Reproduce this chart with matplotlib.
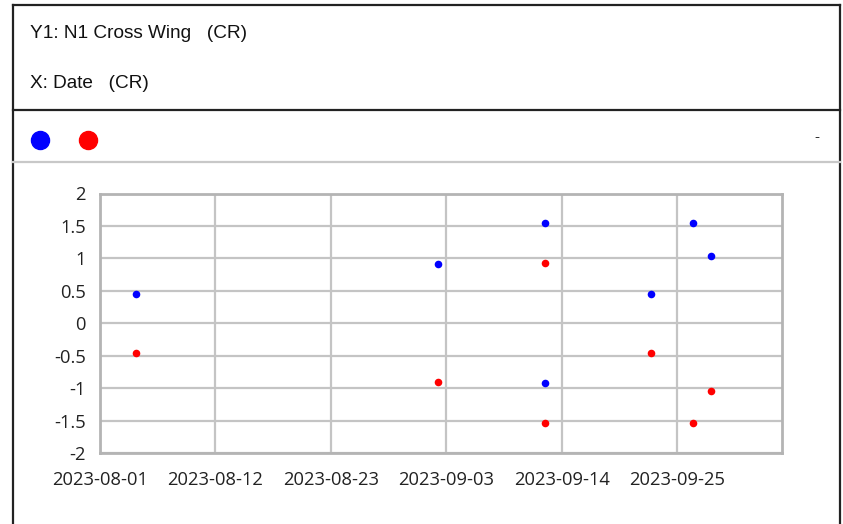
import matplotlib
matplotlib.use("Agg")
import matplotlib.pyplot as plt
import matplotlib.dates as mdates
from matplotlib.lines import Line2D
import pandas as pd

# data
blue_dates = ["2023-08-04 10:00", "2023-09-02 05:00", "2023-09-12 10:00", "2023-09-12 10:00",
              "2023-09-22 12:00", "2023-09-26 12:00", "2023-09-28 05:00"]
blue_values = [0.45, 0.91, 1.54, -0.92, 0.45, 1.54, 1.04]
red_dates = ["2023-08-04 10:00", "2023-09-02 05:00", "2023-09-12 10:00", "2023-09-12 10:00",
             "2023-09-22 12:00", "2023-09-26 12:00", "2023-09-28 05:00"]
red_values = [-0.46, -0.91, 0.93, -1.53, -0.46, -1.53, -1.04]
x_ticks = ["2023-08-01", "2023-08-12", "2023-08-23", "2023-09-03", "2023-09-14", "2023-09-25"]
y_ticks = [2, 1.5, 1, 0.5, 0, -0.5, -1, -1.5, -2]

W, H = 843, 524
plt.rcParams["font.family"] = ["Open Sans", "DejaVu Sans"]

fig = plt.figure(figsize=(W / 100, H / 100), dpi=100)


def fx(x):
    return x / W


def fy(y):
    return 1 - y / H


# outer frame and separators
frame_kw = dict(transform=fig.transFigure, color="#222222", lw=1.6)
fig.add_artist(Line2D([fx(13), fx(840)], [fy(5), fy(5)], **frame_kw))
fig.add_artist(Line2D([fx(13), fx(13)], [fy(5), fy(530)], **frame_kw))
fig.add_artist(Line2D([fx(840), fx(840)], [fy(5), fy(530)], **frame_kw))
fig.add_artist(Line2D([fx(13), fx(840)], [fy(110), fy(110)], **frame_kw))
fig.add_artist(Line2D([fx(13), fx(840)], [fy(162), fy(162)],
                      transform=fig.transFigure, color="#c8c8c8", lw=1.6))

# header text
head_kw = dict(fontsize=13.7, va="center", ha="left", color="#111111",
               family=["Liberation Sans", "DejaVu Sans"])
fig.text(fx(30), fy(33), "Y1: N1 Cross Wing   (CR)", **head_kw)
fig.text(fx(30), fy(84), "X: Date   (CR)", **head_kw)

# legend row
fig.add_artist(Line2D([fx(40)], [fy(140)], transform=fig.transFigure, marker="o",
                      markersize=13, color="#0000ff", linestyle="none"))
fig.add_artist(Line2D([fx(88)], [fy(140)], transform=fig.transFigure, marker="o",
                      markersize=13, color="#ff0000", linestyle="none"))
fig.text(fx(817), fy(138), "-", fontsize=11, va="center", ha="center", color="#333333")

# plot area
ax = fig.add_axes([fx(100), fy(453), fx(782) - fx(100), (453 - 193.5) / H])
ax.scatter(pd.to_datetime(blue_dates), blue_values, s=30, color="#0000ff", zorder=3, linewidths=0)
ax.scatter(pd.to_datetime(red_dates), red_values, s=30, color="#ff0000", zorder=3, linewidths=0)

ax.set_xlim(pd.Timestamp("2023-08-01"), pd.Timestamp("2023-10-05"))
ax.set_ylim(-2, 2)
ax.set_xticks(pd.to_datetime(x_ticks))
ax.xaxis.set_major_formatter(mdates.DateFormatter("%Y-%m-%d"))
ax.set_yticks(y_ticks)
ax.set_yticklabels([f"{v:g}" for v in y_ticks])
ax.tick_params(length=0, labelsize=13.2, colors="#222222")
ax.tick_params(axis="x", pad=13)
ax.tick_params(axis="y", pad=10)
ax.grid(True, color="#c4c4c4", lw=1.6)
ax.set_axisbelow(True)
for side in ax.spines.values():
    side.set_color("#b4b4b4")
    side.set_linewidth(2)

fig.savefig("out.png", dpi=100)
